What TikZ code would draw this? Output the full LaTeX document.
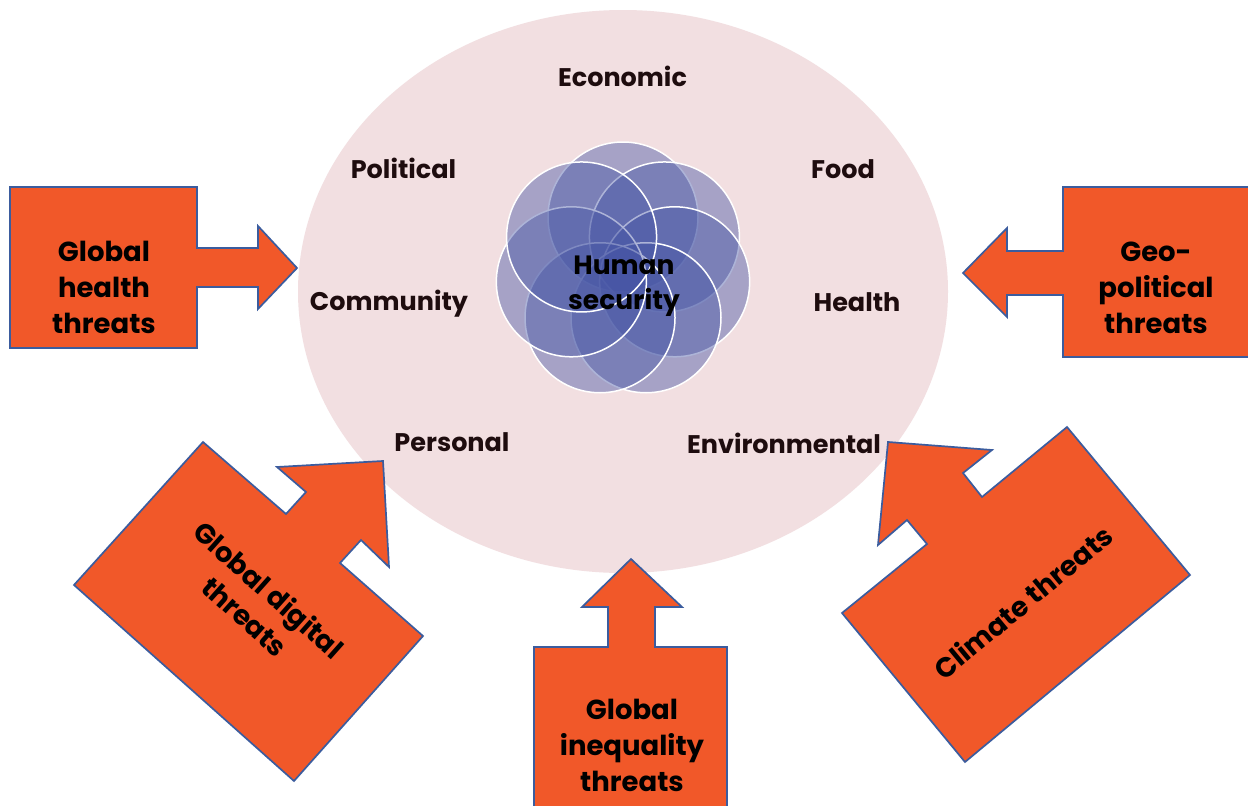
\documentclass[tikz,border=0pt]{standalone}
\usepackage{fontspec}
\setmainfont{Poppins}
\definecolor{bgpink}{RGB}{242,223,225}
\definecolor{petal}{RGB}{70,85,165}
\definecolor{threatfill}{RGB}{241,88,41}
\definecolor{threatedge}{RGB}{59,92,158}
\definecolor{lbltext}{RGB}{30,12,14}
\begin{document}
\begin{tikzpicture}[x=1pt,y=-1pt,
  threat/.style={fill=threatfill, draw=threatedge, line width=1.7pt, line join=miter},
  petalstyle/.style={fill=petal, fill opacity=0.44, draw=white, draw opacity=1, line width=1.5pt},
  lbl/.style={font=\fontsize{25.5}{30}\selectfont\bfseries, text=lbltext, inner sep=0pt, anchor=base},
  arrtxt/.style={font=\fontsize{27.5}{36}\selectfont\bfseries, text=black, align=center, inner sep=0pt}]
\useasboundingbox (0,0) rectangle (1248,806);
\fill[white] (0,0) rectangle (1248,806);
% big ellipse
\fill[bgpink] (623,291.5) ellipse [x radius=325, y radius=281.5];
% flower
\foreach \k in {0,...,6}{
  \path[petalstyle] (623,270) ++({-90+\k*360/7}:53) circle [radius=75];
}
% labels
\node[lbl] (econ) at (622.5,86) {Economic};
\node[lbl] (pol) at (403.5,178) {Political};
\node[lbl] (food) at (843,178) {Food};
\node[lbl] (comm) at (389,310) {Community};
\node[lbl] (heal) at (857,311) {Health};
\node[lbl] (pers) at (452,451) {Personal};
\node[lbl] (env) at (784,453) {Environmental};
\node[arrtxt, font=\fontsize{26.5}{35}\selectfont\bfseries] (hs) at (624,286) {Human\\security};
% threat arrows
\draw[threat] (10,187) -- (197,187) -- (197,248) -- (258,248) -- (258,226) -- (297,268)
  -- (258,309) -- (258,287) -- (197,287) -- (197,348) -- (10,348) -- cycle;
\node[arrtxt] (ght) at (104,287) {Global\\health\\threats};
\draw[threat] (1063,187) -- (1252,187) -- (1252,357) -- (1063,357) -- (1063,295) -- (1007,295)
  -- (1007,317) -- (963,273) -- (1007,228) -- (1007,251) -- (1063,251) -- cycle;
\node[arrtxt] (gpt) at (1156,287.5) {Geo-\\political\\threats};
\draw[threat] (534,812) -- (534,647) -- (608,647) -- (608,607) -- (582,607) -- (631,559)
  -- (682,607) -- (655,607) -- (655,647) -- (727,647) -- (727,812) -- cycle;
\node[arrtxt] (git) at (632,745) {Global\\inequality\\threats};
\draw[threat] (203,442) -- (286,514) -- (306,492) -- (277,467) -- (383,461) -- (389,567)
  -- (361,540) -- (340,563) -- (423,636) -- (294,781) -- (74,585) -- cycle;
\node[arrtxt, rotate=-41.7] (gdt) at (257,603) {Global digital\\threats};
\draw[threat] (888,442) -- (992,450) -- (963,473) -- (982,497) -- (1067,427) -- (1190,575)
  -- (965,762) -- (842,613) -- (927,544) -- (907,520) -- (878,545) -- cycle;
\node[arrtxt, rotate=39.6] (ct) at (1023,602) {Climate threats};
\end{tikzpicture}
\end{document}
